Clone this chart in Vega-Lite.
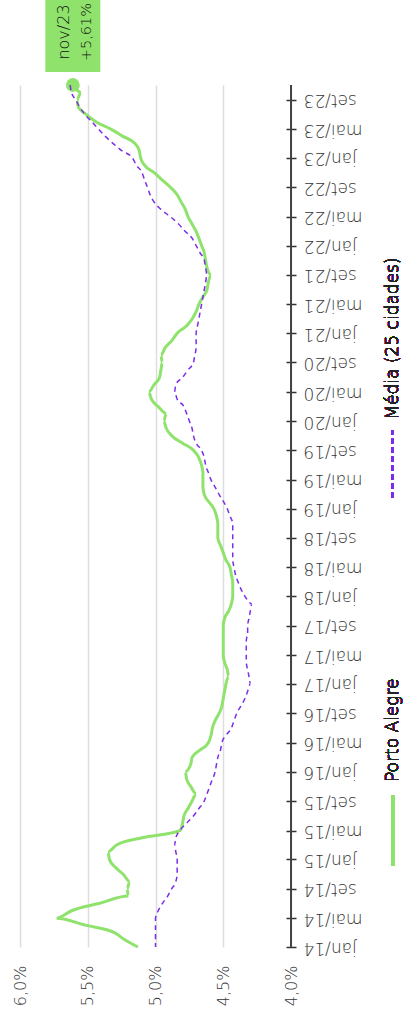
{
  "$schema": "https://vega.github.io/schema/vega-lite/v6.json",
  "width": 271,
  "height": 862,
  "autosize": {"type": "none"},
  "padding": {"left": 20, "top": 85, "right": 112, "bottom": 71},
  "background": "white",
  "config": {
    "view": {"stroke": null},
    "font": "DejaVu Sans",
    "axisX": {"grid": true, "gridColor": "#dddddd", "gridWidth": 1.5, "domain": false, "ticks": false, "tickSize": 0,
      "labelAngle": 270, "labelAlign": "right", "labelBaseline": "middle", "labelPadding": 18, "labelFontSize": 16,
      "labelFontWeight": 300, "labelColor": "#333333",
      "labelExpr": "replace(format(datum.value, '.1f'), '.', ',') + '%'"},
    "axisY": {"domain": false, "grid": false, "ticks": true, "tickSize": 10, "tickWidth": 1.5, "tickColor": "#333333",
      "labelOverlap": false, "labelAngle": 180, "labelAlign": "right", "labelBaseline": "middle", "labelPadding": 7,
      "labelFontSize": 17, "labelFontWeight": 300, "labelColor": "#333333",
      "labelExpr": "['jan','fev','mar','abr','mai','jun','jul','ago','set','out','nov','dez'][utcmonth(datum.value)] + '/' + utcFormat(datum.value, '%y')"}
  },
  "data": {"values": [
    {"date":"2014-01-01","pa":5.13,"media":5.00},
    {"date":"2014-02-01","pa":5.23,"media":5.00},
    {"date":"2014-03-01","pa":5.30,"media":5.00},
    {"date":"2014-04-01","pa":5.51,"media":5.00},
    {"date":"2014-05-01","pa":5.73,"media":5.00},
    {"date":"2014-06-01","pa":5.62,"media":4.98},
    {"date":"2014-07-01","pa":5.42,"media":4.95},
    {"date":"2014-08-01","pa":5.20,"media":4.91},
    {"date":"2014-09-01","pa":5.21,"media":4.88},
    {"date":"2014-10-01","pa":5.19,"media":4.85},
    {"date":"2014-11-01","pa":5.24,"media":4.84},
    {"date":"2014-12-01","pa":5.30,"media":4.84},
    {"date":"2015-01-01","pa":5.34,"media":4.84},
    {"date":"2015-02-01","pa":5.35,"media":4.85},
    {"date":"2015-03-01","pa":5.29,"media":4.86},
    {"date":"2015-04-01","pa":5.10,"media":4.85},
    {"date":"2015-05-01","pa":4.82,"media":4.82},
    {"date":"2015-06-01","pa":4.80,"media":4.77},
    {"date":"2015-07-01","pa":4.79,"media":4.72},
    {"date":"2015-08-01","pa":4.76,"media":4.68},
    {"date":"2015-09-01","pa":4.73,"media":4.64},
    {"date":"2015-10-01","pa":4.70,"media":4.62},
    {"date":"2015-11-01","pa":4.74,"media":4.60},
    {"date":"2015-12-01","pa":4.77,"media":4.58},
    {"date":"2016-01-01","pa":4.78,"media":4.56},
    {"date":"2016-02-01","pa":4.74,"media":4.55},
    {"date":"2016-03-01","pa":4.73,"media":4.54},
    {"date":"2016-04-01","pa":4.67,"media":4.52},
    {"date":"2016-05-01","pa":4.61,"media":4.51},
    {"date":"2016-06-01","pa":4.59,"media":4.48},
    {"date":"2016-07-01","pa":4.58,"media":4.44},
    {"date":"2016-08-01","pa":4.56,"media":4.42},
    {"date":"2016-09-01","pa":4.53,"media":4.40},
    {"date":"2016-10-01","pa":4.51,"media":4.37},
    {"date":"2016-11-01","pa":4.50,"media":4.34},
    {"date":"2016-12-01","pa":4.49,"media":4.32},
    {"date":"2017-01-01","pa":4.48,"media":4.30},
    {"date":"2017-02-01","pa":4.46,"media":4.31},
    {"date":"2017-03-01","pa":4.47,"media":4.32},
    {"date":"2017-04-01","pa":4.49,"media":4.33},
    {"date":"2017-05-01","pa":4.50,"media":4.33},
    {"date":"2017-06-01","pa":4.50,"media":4.33},
    {"date":"2017-07-01","pa":4.50,"media":4.33},
    {"date":"2017-08-01","pa":4.50,"media":4.32},
    {"date":"2017-09-01","pa":4.50,"media":4.32},
    {"date":"2017-10-01","pa":4.49,"media":4.31},
    {"date":"2017-11-01","pa":4.46,"media":4.30},
    {"date":"2017-12-01","pa":4.44,"media":4.29},
    {"date":"2018-01-01","pa":4.43,"media":4.34},
    {"date":"2018-02-01","pa":4.43,"media":4.37},
    {"date":"2018-03-01","pa":4.43,"media":4.39},
    {"date":"2018-04-01","pa":4.44,"media":4.41},
    {"date":"2018-05-01","pa":4.45,"media":4.42},
    {"date":"2018-06-01","pa":4.48,"media":4.43},
    {"date":"2018-07-01","pa":4.50,"media":4.43},
    {"date":"2018-08-01","pa":4.52,"media":4.43},
    {"date":"2018-09-01","pa":4.54,"media":4.43},
    {"date":"2018-10-01","pa":4.54,"media":4.43},
    {"date":"2018-11-01","pa":4.54,"media":4.43},
    {"date":"2018-12-01","pa":4.55,"media":4.45},
    {"date":"2019-01-01","pa":4.57,"media":4.47},
    {"date":"2019-02-01","pa":4.61,"media":4.50},
    {"date":"2019-03-01","pa":4.64,"media":4.53},
    {"date":"2019-04-01","pa":4.65,"media":4.56},
    {"date":"2019-05-01","pa":4.65,"media":4.59},
    {"date":"2019-06-01","pa":4.65,"media":4.61},
    {"date":"2019-07-01","pa":4.66,"media":4.63},
    {"date":"2019-08-01","pa":4.68,"media":4.64},
    {"date":"2019-09-01","pa":4.72,"media":4.66},
    {"date":"2019-10-01","pa":4.80,"media":4.70},
    {"date":"2019-11-01","pa":4.88,"media":4.72},
    {"date":"2019-12-01","pa":4.92,"media":4.73},
    {"date":"2020-01-01","pa":4.94,"media":4.75},
    {"date":"2020-02-01","pa":4.92,"media":4.77},
    {"date":"2020-03-01","pa":4.98,"media":4.79},
    {"date":"2020-04-01","pa":5.03,"media":4.84},
    {"date":"2020-05-01","pa":5.05,"media":4.86},
    {"date":"2020-06-01","pa":5.01,"media":4.85},
    {"date":"2020-07-01","pa":4.97,"media":4.80},
    {"date":"2020-08-01","pa":4.96,"media":4.76},
    {"date":"2020-09-01","pa":4.95,"media":4.72},
    {"date":"2020-10-01","pa":4.96,"media":4.71},
    {"date":"2020-11-01","pa":4.93,"media":4.70},
    {"date":"2020-12-01","pa":4.88,"media":4.70},
    {"date":"2021-01-01","pa":4.84,"media":4.70},
    {"date":"2021-02-01","pa":4.77,"media":4.69},
    {"date":"2021-03-01","pa":4.73,"media":4.68},
    {"date":"2021-04-01","pa":4.70,"media":4.67},
    {"date":"2021-05-01","pa":4.68,"media":4.66},
    {"date":"2021-06-01","pa":4.65,"media":4.65},
    {"date":"2021-07-01","pa":4.62,"media":4.64},
    {"date":"2021-08-01","pa":4.61,"media":4.63},
    {"date":"2021-09-01","pa":4.59,"media":4.62},
    {"date":"2021-10-01","pa":4.62,"media":4.63},
    {"date":"2021-11-01","pa":4.63,"media":4.64},
    {"date":"2021-12-01","pa":4.64,"media":4.67},
    {"date":"2022-01-01","pa":4.66,"media":4.70},
    {"date":"2022-02-01","pa":4.68,"media":4.73},
    {"date":"2022-03-01","pa":4.70,"media":4.78},
    {"date":"2022-04-01","pa":4.73,"media":4.83},
    {"date":"2022-05-01","pa":4.76,"media":4.89},
    {"date":"2022-06-01","pa":4.78,"media":4.96},
    {"date":"2022-07-01","pa":4.81,"media":5.01},
    {"date":"2022-08-01","pa":4.84,"media":5.04},
    {"date":"2022-09-01","pa":4.89,"media":5.06},
    {"date":"2022-10-01","pa":4.95,"media":5.08},
    {"date":"2022-11-01","pa":5.01,"media":5.10},
    {"date":"2022-12-01","pa":5.08,"media":5.14},
    {"date":"2023-01-01","pa":5.11,"media":5.17},
    {"date":"2023-02-01","pa":5.12,"media":5.25},
    {"date":"2023-03-01","pa":5.15,"media":5.31},
    {"date":"2023-04-01","pa":5.24,"media":5.37},
    {"date":"2023-05-01","pa":5.33,"media":5.42},
    {"date":"2023-06-01","pa":5.44,"media":5.47},
    {"date":"2023-07-01","pa":5.51,"media":5.52},
    {"date":"2023-08-01","pa":5.57,"media":5.56},
    {"date":"2023-09-01","pa":5.58,"media":5.59},
    {"date":"2023-10-01","pa":5.55,"media":5.62},
    {"date":"2023-11-01","pa":5.61,"media":5.63}
  ]},
  "layer": [
    {
      "mark": {"type": "line", "color": "#8fe36c", "strokeWidth": 3, "interpolate": "monotone"},
      "encoding": {
        "x": {"field": "pa", "type": "quantitative",
          "scale": {"domain": [4, 6], "reverse": true, "nice": false, "zero": false},
          "axis": {"orient": "bottom", "values": [4, 4.5, 5, 5.5, 6], "title": null}},
        "y": {"field": "date", "type": "temporal",
          "scale": {"type": "utc", "domain": [{"year": 2014, "month": 1, "date": 1, "utc": true}, {"year": 2023, "month": 11, "date": 1, "utc": true}]},
          "axis": {"orient": "right", "offset": -5, "tickCount": {"interval": "month", "step": 4}, "title": null}}
      }
    },
    {
      "mark": {"type": "rule", "color": "#444444", "strokeWidth": 2},
      "encoding": {
        "x": {"datum": 4, "type": "quantitative", "axis": {"orient": "bottom", "title": null}}
      }
    },
    {
      "data": {"values": [{"date": "2023-11-01", "pa": 5.61}]},
      "mark": {"type": "point", "filled": true, "opacity": 1, "color": "#8fe36c", "size": 190},
      "encoding": {
        "x": {"field": "pa", "type": "quantitative", "axis": {"orient": "bottom", "title": null}},
        "y": {"field": "date", "type": "temporal", "axis": {"orient": "right", "offset": -5, "title": null}}
      }
    },
    {
      "mark": {"type": "line", "color": "#7b2ee8", "strokeWidth": 1.5, "strokeDash": [5, 4], "interpolate": "monotone"},
      "encoding": {
        "x": {"field": "media", "type": "quantitative", "axis": {"orient": "bottom", "title": null}},
        "y": {"field": "date", "type": "temporal", "axis": {"orient": "right", "offset": -5, "title": null}}
      }
    },
    {
      "data": {"values": [{"date": "2023-11-01", "pa": 5.61}]},
      "mark": {"type": "rect", "color": "#8fe36c", "width": 55, "height": 72, "yOffset": -49},
      "encoding": {
        "x": {"field": "pa", "type": "quantitative", "axis": {"orient": "bottom", "title": null}},
        "y": {"field": "date", "type": "temporal", "axis": {"orient": "right", "offset": -5, "title": null}}
      }
    },
    {
      "data": {"values": [{"date": "2023-11-01", "pa": 5.61}]},
      "mark": {"type": "text", "text": "nov/23", "angle": 270, "align": "center", "baseline": "middle",
        "fontSize": 16, "fontWeight": 300, "color": "#111111", "xOffset": -9, "yOffset": -53},
      "encoding": {
        "x": {"field": "pa", "type": "quantitative", "axis": {"orient": "bottom", "title": null}},
        "y": {"field": "date", "type": "temporal", "axis": {"orient": "right", "offset": -5, "title": null}}
      }
    },
    {
      "data": {"values": [{"date": "2023-11-01", "pa": 5.61}]},
      "mark": {"type": "text", "text": "+5,61%", "angle": 270, "align": "center", "baseline": "middle",
        "fontSize": 14.5, "fontWeight": 300, "color": "#111111", "xOffset": 14, "yOffset": -53},
      "encoding": {
        "x": {"field": "pa", "type": "quantitative", "axis": {"orient": "bottom", "title": null}},
        "y": {"field": "date", "type": "temporal", "axis": {"orient": "right", "offset": -5, "title": null}}
      }
    },
    {
      "mark": {"type": "text", "text": "Porto Alegre", "angle": 270, "align": "center", "baseline": "middle", "fontSize": 17, "fontWeight": 300, "color": "#222222"},
      "encoding": {
        "x": {"datum": 3.25, "type": "quantitative", "axis": {"orient": "bottom", "title": null}},
        "y": {"datum": {"year": 2016, "month": 6, "date": 22, "utc": true}, "type": "temporal", "axis": {"orient": "right", "offset": -5, "title": null}}
      }
    },
    {
      "mark": {"type": "rule", "color": "#8fe36c", "strokeWidth": 3},
      "encoding": {
        "x": {"datum": 3.25, "type": "quantitative", "axis": {"orient": "bottom", "title": null}},
        "y": {"datum": {"year": 2014, "month": 12, "date": 6, "utc": true}, "type": "temporal", "axis": {"orient": "right", "offset": -5, "title": null}},
        "y2": {"datum": {"year": 2015, "month": 9, "date": 25, "utc": true}}
      }
    },
    {
      "mark": {"type": "text", "text": "Média (25 cidades)", "angle": 270, "align": "center", "baseline": "middle", "fontSize": 17, "fontWeight": 300, "color": "#222222"},
      "encoding": {
        "x": {"datum": 3.25, "type": "quantitative", "axis": {"orient": "bottom", "title": null}},
        "y": {"datum": {"year": 2020, "month": 12, "date": 10, "utc": true}, "type": "temporal", "axis": {"orient": "right", "offset": -5, "title": null}}
      }
    },
    {
      "mark": {"type": "rule", "color": "#7b2ee8", "strokeWidth": 1.5, "strokeDash": [5, 4]},
      "encoding": {
        "x": {"datum": 3.25, "type": "quantitative", "axis": {"orient": "bottom", "title": null}},
        "y": {"datum": {"year": 2019, "month": 2, "date": 18, "utc": true}, "type": "temporal", "axis": {"orient": "right", "offset": -5, "title": null}},
        "y2": {"datum": {"year": 2019, "month": 11, "date": 25, "utc": true}}
      }
    }
  ]
}
